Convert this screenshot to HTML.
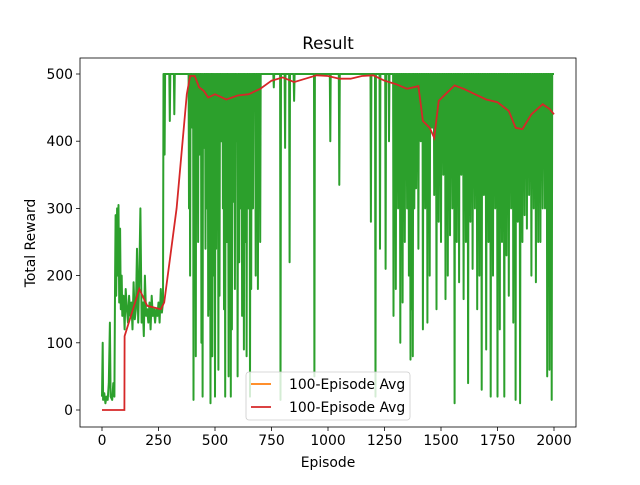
<!DOCTYPE html>
<html><head><meta charset="utf-8"><style>
body{margin:0;background:#fff;font-family:"Liberation Sans","DejaVu Sans",sans-serif}
svg text{font-family:"DejaVu Sans","Liberation Sans",sans-serif;fill:#000}
</style></head><body>
<svg id="chart" width="640" height="480" xmlns="http://www.w3.org/2000/svg">
<rect width="640" height="480" fill="#fff"/>
<text x="328" y="49" font-size="16.7" text-anchor="middle">Result</text>
<g id="plot"></g>
<text x="328" y="467" font-size="13.9" text-anchor="middle">Episode</text>
<text x="35" y="243" font-size="13.9" text-anchor="middle" transform="rotate(-90 35 243)">Total Reward</text>
</svg>
<script>
const xTicks=[0,250,500,750,1000,1250,1500,1750,2000];
const yTicks=[0,100,200,300,400,500];
const earlyEpisodes=[0,3,5,10,15,20,25,30,35,38,45,50,55,58,60,63,67,70,73,76,80,83,87,90,95,100,105,110,115,120,125,130,135,140,145,150,155,160,165,170,175,180,185,190,195,200,205,210,215,220,225,230,235,240,245,250,255,260,265,270,272,280];
const earlyRewards=[20,100,15,25,10,20,15,40,130,20,15,40,20,200,290,170,300,200,305,160,270,150,200,140,170,120,180,150,130,170,140,160,120,190,135,150,240,130,200,300,130,160,110,200,140,150,130,160,120,170,140,150,130,150,140,160,130,180,145,160,500,500];
const dipEpisodes=[277,300,320,385,390,400,405,410,415,420,425,432,440,445,450,458,465,470,475,480,488,495,500,505,510,515,520,528,535,540,545,552,560,565,570,575,580,588,595,600,607,615,620,628,635,640,648,655,660,668,680,690,700,760,790,810,830,850,940,1010,1050,1190,1210,1230,1255,1270,1290,1300,1310,1320,1330,1340,1350,1358,1365,1370,1375,1382,1390,1400,1410,1420,1430,1440,1450,1460,1470,1480,1490,1500,1510,1520,1530,1540,1550,1560,1570,1580,1590,1600,1610,1620,1630,1640,1650,1660,1670,1680,1690,1700,1710,1720,1730,1740,1750,1760,1770,1780,1790,1800,1810,1820,1830,1840,1850,1860,1870,1880,1890,1900,1910,1920,1930,1940,1950,1960,1970,1980,1990];
const dipRewards=[380,430,440,300,200,420,15,180,80,300,250,380,100,20,390,240,300,140,150,10,80,200,20,240,300,60,170,400,300,150,20,250,50,200,20,120,310,180,400,50,220,300,140,90,250,80,300,20,180,300,200,180,250,480,15,390,220,460,50,400,335,280,20,240,210,400,140,180,300,100,160,250,300,200,75,150,80,300,330,240,400,120,300,130,200,420,320,150,280,250,350,165,200,260,300,10,250,190,350,165,250,40,280,210,300,150,200,30,320,90,250,20,200,300,20,120,250,20,230,170,300,130,15,280,10,250,290,270,320,200,300,190,250,250,300,300,50,60,15];
const avgEpisodes=[0,99,100,165,200,260,275,330,375,390,410,430,450,470,500,550,600,650,700,750,800,850,900,950,1000,1050,1100,1150,1200,1250,1300,1350,1400,1420,1450,1470,1490,1520,1560,1600,1650,1700,1750,1800,1830,1860,1900,1950,1980,2000];
const avgRewards=[0,0,110,180,155,150,160,300,470,497,497,480,475,465,470,462,468,470,478,490,495,488,493,498,497,493,493,497,498,490,485,478,482,430,420,405,460,470,483,478,470,462,458,445,420,418,440,455,448,440];
const L=80,R=576,T=58,B=427;
const X=e=>102+(e/2000)*452;
const Y=v=>410-(v/500)*336;
const g=document.getElementById('plot');
const NS='http://www.w3.org/2000/svg';
function mk(t,a){const e=document.createElementNS(NS,t);for(const k in a)e.setAttribute(k,a[k]);g.appendChild(e);return e;}
xTicks.forEach(t=>{
 const l=mk('line',{x1:X(t),x2:X(t),y1:B,y2:B+4,stroke:'#000','stroke-width':0.8});
 
 
 const tx=mk('text',{x:X(t),y:B+18,'font-size':13.9,'text-anchor':'middle'});tx.textContent=t;
 
 
});
yTicks.forEach(t=>{
 const l=mk('line',{x1:L-4,x2:L,y1:Y(t),y2:Y(t),stroke:'#000','stroke-width':0.8});
 
 
 const tx=mk('text',{x:L-7,y:Y(t)+5,'font-size':13.9,'text-anchor':'end'});tx.textContent=t;
 
 
});
let pts=earlyEpisodes.map((e,i)=>[e,earlyRewards[i]]);
dipEpisodes.forEach((e,i)=>{pts.push([e-2,500]);pts.push([e,dipRewards[i]]);pts.push([e+2,500]);});
pts.push([2000,500]);
const gl=mk('polyline',{points:pts.map(p=>X(p[0]).toFixed(1)+','+Y(p[1]).toFixed(1)).join(' '),fill:'none',stroke:'#2ca02c','stroke-width':2,'stroke-linejoin':'round'});


const rl=mk('polyline',{points:avgEpisodes.map((e,i)=>X(e).toFixed(1)+','+Y(avgRewards[i]).toFixed(1)).join(' '),fill:'none',stroke:'#d62728','stroke-width':1.8});


const fr=mk('rect',{x:L,y:T,width:R-L,height:B-T,fill:'none',stroke:'#000','stroke-width':0.8});


const lg=mk('rect',{x:246,y:372,width:164,height:48,rx:3,fill:'#fff','fill-opacity':0.8,stroke:'#ccc','stroke-width':0.8});


[['#ff7f0e',389],['#d62728',412]].forEach((c,i)=>{
 const l=mk('line',{x1:251,x2:271,y1:c[1]-5,y2:c[1]-5,stroke:c[0],'stroke-width':1.8});
 
 
 const t=mk('text',{x:289,y:c[1],'font-size':13.9});t.textContent='100-Episode Avg';
 
 
});
</script>
</body></html>
